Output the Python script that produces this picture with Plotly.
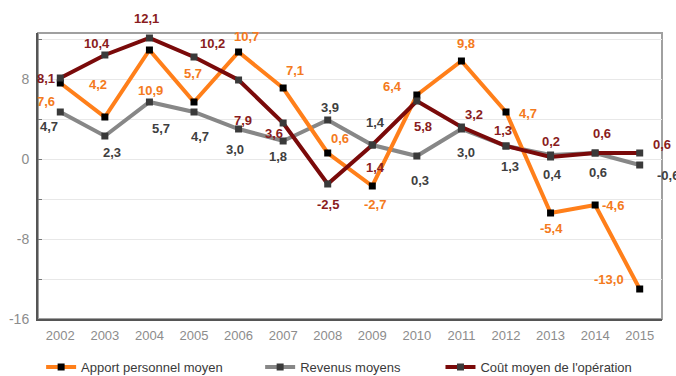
import plotly.graph_objects as go

years = ["2002", "2003", "2004", "2005", "2006", "2007", "2008",
         "2009", "2010", "2011", "2012", "2013", "2014", "2015"]
apport = [7.6, 4.2, 10.9, 5.7, 10.7, 7.1, 0.6, -2.7, 6.4, 9.8, 4.7, -5.4, -4.6, -13.0]
revenus = [4.7, 2.3, 5.7, 4.7, 3.0, 1.8, 3.9, 1.4, 0.3, 3.0, 1.3, 0.4, 0.6, -0.6]
cout = [8.1, 10.4, 12.1, 10.2, 7.9, 3.6, -2.5, 1.4, 5.8, 3.2, 1.3, 0.2, 0.6, 0.6]
names = ["Apport personnel moyen", "Revenus moyens", "Coût moyen de l'opération"]

# label offsets in pixels (dx, dy up)
off_apport = [(-14, -18), (-7, 33), (1, -40), (-1, 29), (8, 16), (12, 18), (12, 15),
              (3, -18), (-24, 9), (5, 18), (22, -1), (1, -15), (18, 0), (-31, 10)]
off_revenus = [(-11, -14), (7, -16), (12, -26), (6, -24), (-4, -20), (-5, -15), (2, 13),
               (3, 23), (3, -24), (5, -23), (4, -20), (2, -19), (3, -19), (28, -10)]
off_cout = [(-14, 0), (-8, 12), (-3, 20), (18, 14), (4, -40), (-9, -10), (0, -20),
            (3, -22), (6, -25), (13, 13), (-3, 16), (0, 16), (7, 20), (22, 9)]

ORANGE = "#FF7F1A"
GRAY = "#878787"
DARKRED = "#7A0A0A"
ORANGE_TXT = "#F47A20"
GRAY_TXT = "#3F3F3F"
RED_TXT = "#8A1C20"

fig = go.Figure()

def add(vals, name, color, mcolor, leg):
    fig.add_trace(go.Scatter(
        x=years, y=vals, name=name, mode="lines+markers",
        line=dict(color=color, width=4),
        marker=dict(symbol="square", size=7, color=mcolor),
        legend=leg, cliponaxis=False,
    ))

add(revenus, names[1], GRAY, "#3A3A3A", "legend2")
add(apport, names[0], ORANGE, "#000000", "legend")
add(cout, names[2], DARKRED, "#3A3A3A", "legend3")

annotations = []
for vals, offs, col in [(apport, off_apport, ORANGE_TXT),
                        (revenus, off_revenus, GRAY_TXT),
                        (cout, off_cout, RED_TXT)]:
    for i, (v, (dx, dy)) in enumerate(zip(vals, offs)):
        annotations.append(dict(
            x=i, y=v, xref="x", yref="y", showarrow=False,
            text=f"{v:.1f}".replace(".", ","),
            xshift=dx, yshift=dy,
            font=dict(family="Liberation Sans, Arial", size=13, color=col, weight="bold"),
        ))

tickvals = [-16, -12, -8, -4, 0, 4, 8, 12]
ticktext = ["-16", "", "-8", "", "0", "", "8", ""]

def leg(x):
    return dict(orientation="h", x=x, y=-0.168, xanchor="left", yanchor="middle",
                font=dict(size=13, color="#3A3A3A"), itemwidth=30,
                bgcolor="rgba(0,0,0,0)")

fig.update_layout(
    width=676, height=376,
    margin=dict(l=38, r=14, t=33, b=57, autoexpand=False),
    paper_bgcolor="white", plot_bgcolor="white",
    font=dict(family="Liberation Sans, Arial", size=13, color="#333333"),
    annotations=annotations,
    showlegend=True,
    legend=leg(0.005), legend2=leg(0.356), legend3=leg(0.645),
    xaxis=dict(type="category", range=[-0.5, 13.5], showgrid=False,
               showline=True, linecolor="#555555", linewidth=2, mirror=False,
               ticks="", ticklabelstandoff=3,
               tickfont=dict(color="#8C8C8C", size=13)),
    yaxis=dict(range=[-16, 12.6], tickvals=tickvals, ticktext=ticktext,
               showgrid=True, gridcolor="#E8E8E8", gridwidth=1,
               showline=True, linecolor="#555555", linewidth=2,
               ticks="inside", ticklen=4, tickcolor="#777777",
               ticklabelstandoff=4,
               zeroline=False, tickfont=dict(color="#8C8C8C", size=14)),
)
fig.add_shape(type="rect", xref="paper", yref="paper", x0=0, y0=0, x1=1, y1=1,
              line=dict(color="#A0A0A0", width=2), layer="below")

fig.write_html("out.html", config={"displayModeBar": False},
               post_script="document.body.style.margin='0px';")
